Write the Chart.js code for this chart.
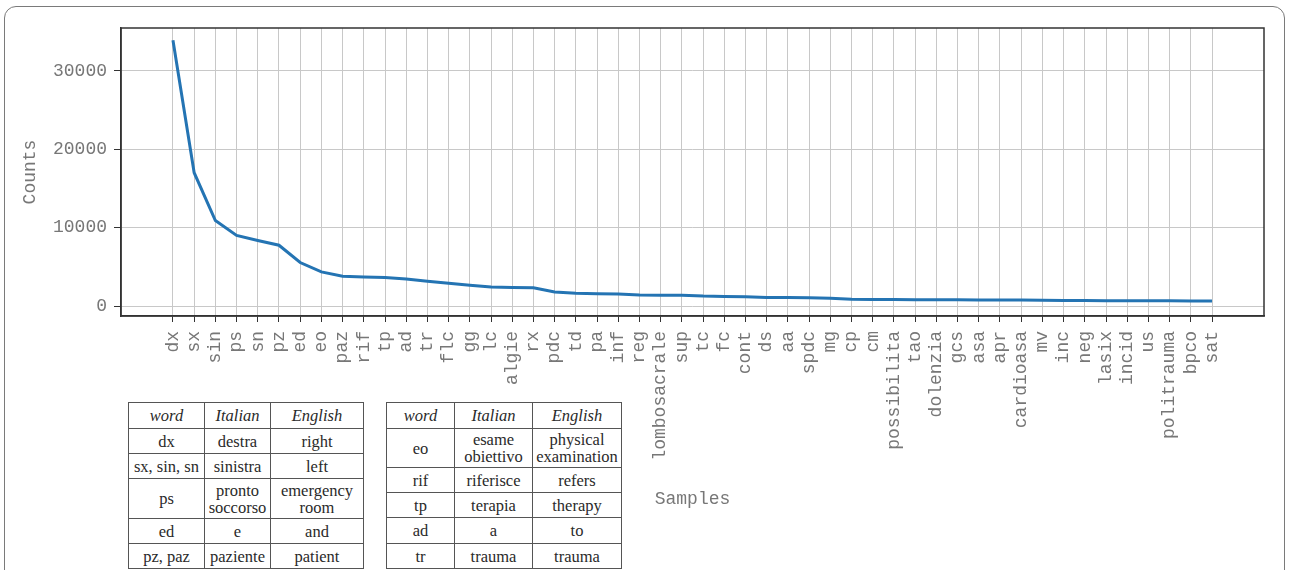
<!DOCTYPE html>
<html>
<head>
<meta charset="utf-8">
<script src="https://cdn.jsdelivr.net/npm/chart.js@4"></script>
<style>
  html, body { margin: 0; padding: 0; background: #fff; }
  body { width: 1290px; height: 570px; position: relative; overflow: hidden; }
  #frame { position: absolute; left: 4px; top: 6px; width: 1281px; height: 620px;
           border: 1.5px solid #7a7a7a; border-radius: 12px; box-sizing: border-box; }
  #c { position: absolute; left: 0; top: 0; }
  table.gl { position: absolute; border-collapse: collapse; table-layout: fixed;
             font-family: "Liberation Serif", "DejaVu Serif", serif; font-size: 16.5px;
             color: #2a2a2a; background: #fff; }
  table.gl td, table.gl th { border: 1px solid #555; text-align: center; vertical-align: middle;
             padding: 0; line-height: 17px; font-weight: normal; white-space: nowrap; }
  table.gl th { font-style: italic; }
</style>
</head>
<body>
<div id="frame"></div>
<canvas id="c" width="1290" height="570"></canvas>

<table class="gl" id="t1" style="left:128px; top:402px; width:235px;">
  <colgroup><col style="width:76px"><col style="width:66px"><col style="width:93px"></colgroup>
  <tr style="height:26px"><th>word</th><th>Italian</th><th>English</th></tr>
  <tr style="height:25px"><td>dx</td><td>destra</td><td>right</td></tr>
  <tr style="height:25px"><td>sx, sin, sn</td><td>sinistra</td><td>left</td></tr>
  <tr style="height:40px"><td>ps</td><td>pronto<br>soccorso</td><td>emergency<br>room</td></tr>
  <tr style="height:25px"><td>ed</td><td>e</td><td>and</td></tr>
  <tr style="height:25px"><td>pz, paz</td><td>paziente</td><td>patient</td></tr>
</table>

<table class="gl" id="t2" style="left:386px; top:402px; width:235px;">
  <colgroup><col style="width:68px"><col style="width:78px"><col style="width:89px"></colgroup>
  <tr style="height:26px"><th>word</th><th>Italian</th><th>English</th></tr>
  <tr style="height:39px"><td>eo</td><td>esame<br>obiettivo</td><td>physical<br>examination</td></tr>
  <tr style="height:25px"><td>rif</td><td>riferisce</td><td>refers</td></tr>
  <tr style="height:25px"><td>tp</td><td>terapia</td><td>therapy</td></tr>
  <tr style="height:26px"><td>ad</td><td>a</td><td>to</td></tr>
  <tr style="height:25px"><td>tr</td><td>trauma</td><td>trauma</td></tr>
</table>

<script>
const samples = ["dx","sx","sin","ps","sn","pz","ed","eo","paz","rif","tp","ad","tr","flc","gg","lc","algie","rx","pdc","td","pa","inf","reg","lombosacrale","sup","tc","fc","cont","ds","aa","spdc","mg","cp","cm","possibilita","tao","dolenzia","gcs","asa","apr","cardioasa","mv","inc","neg","lasix","incid","us","politrauma","bpco","sat"];
const counts = [33900,17000,10900,9000,8350,7750,5550,4350,3800,3700,3650,3450,3150,2900,2650,2420,2360,2330,1780,1620,1580,1520,1420,1390,1370,1270,1230,1180,1100,1080,1050,980,860,840,820,810,800,790,780,770,760,750,720,700,690,680,670,660,640,630];
const yTicks = [0,10000,20000,30000];

const MONO = '"Liberation Mono", "DejaVu Sans Mono", monospace';
const TXT = '#777';
const FS = 18;

const framePlugin = {
  id: 'plotFrame',
  afterDraw(chart) {
    const a = chart.chartArea, ctx = chart.ctx;
    ctx.save();
    ctx.strokeStyle = '#333';
    ctx.lineWidth = 1.5;
    ctx.strokeRect(a.left, a.top, a.right - a.left, a.bottom - a.top);
    ctx.restore();
  }
};

new Chart(document.getElementById('c'), {
  type: 'line',
  data: {
    datasets: [{
      data: counts.map((v, i) => ({ x: i, y: v })),
      borderColor: '#2474b3',
      borderWidth: 3,
      pointRadius: 0,
      tension: 0,
      fill: false
    }]
  },
  options: {
    responsive: false,
    animation: false,
    devicePixelRatio: 1,
    layout: { padding: { top: 28, right: 26, left: 10, bottom: 56 } },
    plugins: { legend: { display: false }, tooltip: { enabled: false } },
    scales: {
      x: {
        type: 'linear',
        min: -2.45,
        max: samples.length - 1 + 2.45,
        afterBuildTicks: (s) => { s.ticks = samples.map((_, i) => ({ value: i })); },
        afterFit: (s) => { s.height = 198; },
        ticks: {
          autoSkip: false,
          minRotation: 90,
          maxRotation: 90,
          padding: 9,
          color: TXT,
          font: { family: MONO, size: FS },
          callback: (v) => samples[v]
        },
        grid: { color: '#c8c8c8', lineWidth: 1, tickLength: 6, tickColor: '#333' },
        border: { color: '#333', width: 1.5 },
        title: { display: true, text: 'Samples', color: TXT, font: { family: MONO, size: FS }, padding: { top: 0, bottom: 4 } }
      },
      y: {
        type: 'linear',
        min: -1270,
        max: 35450,
        afterBuildTicks: (s) => { s.ticks = yTicks.map(v => ({ value: v })); },
        afterFit: (s) => { s.width = 111; },
        ticks: {
          padding: 7,
          color: TXT,
          font: { family: MONO, size: FS },
          callback: (v) => String(v)
        },
        grid: { color: '#c8c8c8', lineWidth: 1, tickLength: 7, tickColor: '#333' },
        border: { color: '#333', width: 1.5 },
        title: { display: true, text: 'Counts', color: TXT, font: { family: MONO, size: FS }, padding: { top: 9, bottom: 0 } }
      }
    }
  },
  plugins: [framePlugin]
});
</script>
</body>
</html>
